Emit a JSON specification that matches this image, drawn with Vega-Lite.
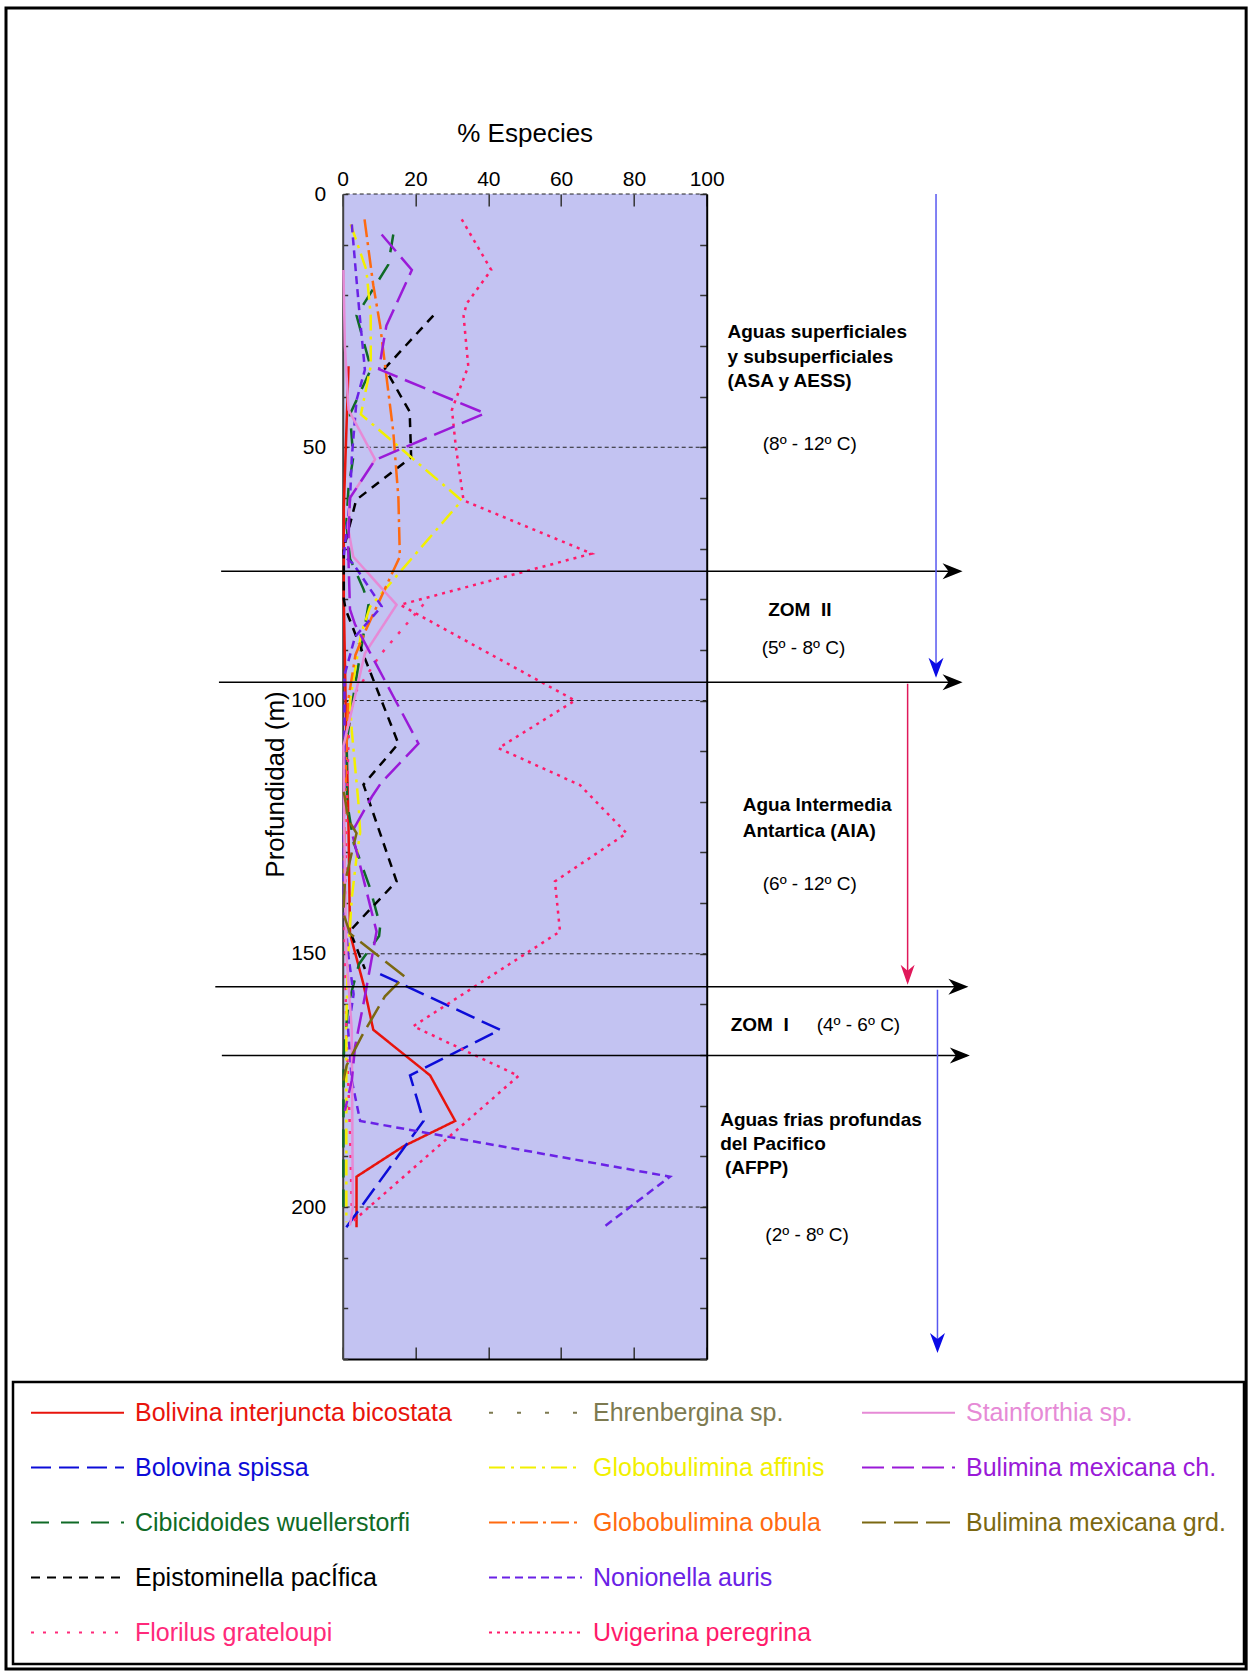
{
  "$schema": "https://vega.github.io/schema/vega-lite/v6.json",
  "autosize": "none",
  "width": 364,
  "height": 1165,
  "padding": {"left": 342.7, "top": 194, "right": 545.3, "bottom": 315},
  "background": "#ffffff",
  "config": {
    "font": "Liberation Sans",
    "view": {"stroke": null, "fill": "#c3c3f2"},
    "axis": {"grid": false, "labelColor": "#000", "titleColor": "#000", "labelFont": "Liberation Sans", "titleFont": "Liberation Sans"}
  },
  "datasets": {
    "grid": [{"d": 0}, {"d": 50}, {"d": 100}, {"d": 150}, {"d": 200}],
    "lines": [
      {"s": "Bolivina interjuncta bicostata", "d": 34, "p": 1.6},
      {"s": "Bolivina interjuncta bicostata", "d": 62, "p": 0.3},
      {"s": "Bolivina interjuncta bicostata", "d": 80, "p": 0.3},
      {"s": "Bolivina interjuncta bicostata", "d": 100, "p": 0.8},
      {"s": "Bolivina interjuncta bicostata", "d": 125, "p": 1.6},
      {"s": "Bolivina interjuncta bicostata", "d": 146, "p": 2},
      {"s": "Bolivina interjuncta bicostata", "d": 156, "p": 5.7},
      {"s": "Bolivina interjuncta bicostata", "d": 165, "p": 8.4},
      {"s": "Bolivina interjuncta bicostata", "d": 174, "p": 24},
      {"s": "Bolivina interjuncta bicostata", "d": 183, "p": 30.9},
      {"s": "Bolivina interjuncta bicostata", "d": 188, "p": 16.7},
      {"s": "Bolivina interjuncta bicostata", "d": 194, "p": 3.8},
      {"s": "Bolivina interjuncta bicostata", "d": 204, "p": 3.8},

      {"s": "Bolovina spissa", "d": 154, "p": 10.3},
      {"s": "Bolovina spissa", "d": 165, "p": 43.2},
      {"s": "Bolovina spissa", "d": 174, "p": 18.5},
      {"s": "Bolovina spissa", "d": 183, "p": 22.2},
      {"s": "Bolovina spissa", "d": 204, "p": 1},

      {"s": "Cibicidoides wuellerstorfi", "d": 8, "p": 13.9},
      {"s": "Cibicidoides wuellerstorfi", "d": 14, "p": 12.5},
      {"s": "Cibicidoides wuellerstorfi", "d": 24, "p": 3.8},
      {"s": "Cibicidoides wuellerstorfi", "d": 34.5, "p": 7.8},
      {"s": "Cibicidoides wuellerstorfi", "d": 43.5, "p": 2},
      {"s": "Cibicidoides wuellerstorfi", "d": 52, "p": 2.9},
      {"s": "Cibicidoides wuellerstorfi", "d": 58, "p": 1.6},
      {"s": "Cibicidoides wuellerstorfi", "d": 65, "p": 1},
      {"s": "Cibicidoides wuellerstorfi", "d": 72, "p": 2},
      {"s": "Cibicidoides wuellerstorfi", "d": 78, "p": 5.7},
      {"s": "Cibicidoides wuellerstorfi", "d": 81, "p": 7.1},
      {"s": "Cibicidoides wuellerstorfi", "d": 97, "p": 3.4},
      {"s": "Cibicidoides wuellerstorfi", "d": 108, "p": 1.1},
      {"s": "Cibicidoides wuellerstorfi", "d": 120, "p": 1.2},
      {"s": "Cibicidoides wuellerstorfi", "d": 128, "p": 3},
      {"s": "Cibicidoides wuellerstorfi", "d": 137, "p": 7.5},
      {"s": "Cibicidoides wuellerstorfi", "d": 144.5, "p": 10.3},
      {"s": "Cibicidoides wuellerstorfi", "d": 146.5, "p": 10},
      {"s": "Cibicidoides wuellerstorfi", "d": 152, "p": 4.5},
      {"s": "Cibicidoides wuellerstorfi", "d": 160, "p": 1.5},
      {"s": "Cibicidoides wuellerstorfi", "d": 170, "p": 0.3},
      {"s": "Cibicidoides wuellerstorfi", "d": 185, "p": 0.2},
      {"s": "Cibicidoides wuellerstorfi", "d": 200, "p": 0.2},

      {"s": "Epistominella pacÍfica", "d": 24, "p": 24.9},
      {"s": "Epistominella pacÍfica", "d": 34.4, "p": 11.6},
      {"s": "Epistominella pacÍfica", "d": 43, "p": 18.4},
      {"s": "Epistominella pacÍfica", "d": 52, "p": 18.8},
      {"s": "Epistominella pacÍfica", "d": 60.4, "p": 3.7},
      {"s": "Epistominella pacÍfica", "d": 70, "p": 0.3},
      {"s": "Epistominella pacÍfica", "d": 80, "p": 0.3},
      {"s": "Epistominella pacÍfica", "d": 82, "p": 0.8},
      {"s": "Epistominella pacÍfica", "d": 108.5, "p": 15.3},
      {"s": "Epistominella pacÍfica", "d": 116.6, "p": 5.7},
      {"s": "Epistominella pacÍfica", "d": 135.7, "p": 14.8},
      {"s": "Epistominella pacÍfica", "d": 143, "p": 5.2},
      {"s": "Epistominella pacÍfica", "d": 145.5, "p": 2},
      {"s": "Epistominella pacÍfica", "d": 153, "p": 6.1},

      {"s": "Florilus grateloupi", "d": 81, "p": 22.2},
      {"s": "Florilus grateloupi", "d": 91, "p": 10.3},
      {"s": "Florilus grateloupi", "d": 100, "p": 2},
      {"s": "Florilus grateloupi", "d": 110, "p": 1.5},
      {"s": "Florilus grateloupi", "d": 125, "p": 1},
      {"s": "Florilus grateloupi", "d": 145, "p": 0.5},
      {"s": "Florilus grateloupi", "d": 165, "p": 1},
      {"s": "Florilus grateloupi", "d": 185, "p": 2},
      {"s": "Florilus grateloupi", "d": 200, "p": 2.5},

      {"s": "Globobulimina affinis", "d": 6, "p": 2.2},
      {"s": "Globobulimina affinis", "d": 15, "p": 6.5},
      {"s": "Globobulimina affinis", "d": 24, "p": 7.7},
      {"s": "Globobulimina affinis", "d": 34, "p": 7.7},
      {"s": "Globobulimina affinis", "d": 43.5, "p": 5},
      {"s": "Globobulimina affinis", "d": 60.5, "p": 32.7},
      {"s": "Globobulimina affinis", "d": 81.5, "p": 7.5},
      {"s": "Globobulimina affinis", "d": 87, "p": 5},
      {"s": "Globobulimina affinis", "d": 100, "p": 2},
      {"s": "Globobulimina affinis", "d": 106, "p": 2.5},
      {"s": "Globobulimina affinis", "d": 120, "p": 4.3},
      {"s": "Globobulimina affinis", "d": 126, "p": 4.8},
      {"s": "Globobulimina affinis", "d": 131, "p": 3.8},
      {"s": "Globobulimina affinis", "d": 139, "p": 2.5},
      {"s": "Globobulimina affinis", "d": 150, "p": 1.5},
      {"s": "Globobulimina affinis", "d": 163, "p": 1},
      {"s": "Globobulimina affinis", "d": 180, "p": 1},
      {"s": "Globobulimina affinis", "d": 203, "p": 1},

      {"s": "Globobulimina obula", "d": 5, "p": 6},
      {"s": "Globobulimina obula", "d": 18, "p": 8.4},
      {"s": "Globobulimina obula", "d": 26, "p": 10.3},
      {"s": "Globobulimina obula", "d": 47, "p": 13.9},
      {"s": "Globobulimina obula", "d": 60, "p": 15.3},
      {"s": "Globobulimina obula", "d": 71.6, "p": 15.7},
      {"s": "Globobulimina obula", "d": 86, "p": 6.4},
      {"s": "Globobulimina obula", "d": 91, "p": 3.5},
      {"s": "Globobulimina obula", "d": 100, "p": 1.5},
      {"s": "Globobulimina obula", "d": 110, "p": 1},
      {"s": "Globobulimina obula", "d": 125, "p": 0.5},
      {"s": "Globobulimina obula", "d": 140, "p": 0.5},

      {"s": "Nonionella auris", "d": 6, "p": 2.5},
      {"s": "Nonionella auris", "d": 17, "p": 3.8},
      {"s": "Nonionella auris", "d": 25, "p": 4.8},
      {"s": "Nonionella auris", "d": 34.7, "p": 6.1},
      {"s": "Nonionella auris", "d": 40.7, "p": 3.8},
      {"s": "Nonionella auris", "d": 52, "p": 2.5},
      {"s": "Nonionella auris", "d": 60.4, "p": 2},
      {"s": "Nonionella auris", "d": 71.5, "p": 0.3},
      {"s": "Nonionella auris", "d": 73, "p": 2.9},
      {"s": "Nonionella auris", "d": 81.4, "p": 10.7},
      {"s": "Nonionella auris", "d": 87.4, "p": 3.4},
      {"s": "Nonionella auris", "d": 95, "p": 0.5},
      {"s": "Nonionella auris", "d": 110, "p": 0.5},
      {"s": "Nonionella auris", "d": 125, "p": 0.3},
      {"s": "Nonionella auris", "d": 140, "p": 0.3},
      {"s": "Nonionella auris", "d": 150, "p": 1.5},
      {"s": "Nonionella auris", "d": 158, "p": 3},
      {"s": "Nonionella auris", "d": 165, "p": 1.5},
      {"s": "Nonionella auris", "d": 175, "p": 2.5},
      {"s": "Nonionella auris", "d": 183, "p": 4.8},
      {"s": "Nonionella auris", "d": 194, "p": 89.9},
      {"s": "Nonionella auris", "d": 204, "p": 71.6},

      {"s": "Uvigerina peregrina", "d": 5, "p": 32.7},
      {"s": "Uvigerina peregrina", "d": 15, "p": 40.8},
      {"s": "Uvigerina peregrina", "d": 21.6, "p": 34.1},
      {"s": "Uvigerina peregrina", "d": 24, "p": 33.2},
      {"s": "Uvigerina peregrina", "d": 34, "p": 34.5},
      {"s": "Uvigerina peregrina", "d": 42.6, "p": 30},
      {"s": "Uvigerina peregrina", "d": 50, "p": 31.1},
      {"s": "Uvigerina peregrina", "d": 60.5, "p": 33.2},
      {"s": "Uvigerina peregrina", "d": 71, "p": 68.4},
      {"s": "Uvigerina peregrina", "d": 81.1, "p": 15.8},
      {"s": "Uvigerina peregrina", "d": 100, "p": 63.8},
      {"s": "Uvigerina peregrina", "d": 109.4, "p": 42.8},
      {"s": "Uvigerina peregrina", "d": 116.7, "p": 65.2},
      {"s": "Uvigerina peregrina", "d": 126.2, "p": 78},
      {"s": "Uvigerina peregrina", "d": 135.7, "p": 58.3},
      {"s": "Uvigerina peregrina", "d": 145.6, "p": 59.7},
      {"s": "Uvigerina peregrina", "d": 164.3, "p": 19.4},
      {"s": "Uvigerina peregrina", "d": 174.1, "p": 48.3},
      {"s": "Uvigerina peregrina", "d": 203, "p": 2.5},

      {"s": "Stainforthia sp.", "d": 15, "p": 0.2},
      {"s": "Stainforthia sp.", "d": 30, "p": 0.6},
      {"s": "Stainforthia sp.", "d": 42.6, "p": 1.6},
      {"s": "Stainforthia sp.", "d": 52.4, "p": 8.9},
      {"s": "Stainforthia sp.", "d": 60, "p": 2},
      {"s": "Stainforthia sp.", "d": 66, "p": 1.5},
      {"s": "Stainforthia sp.", "d": 71.6, "p": 2.9},
      {"s": "Stainforthia sp.", "d": 81.1, "p": 14.8},
      {"s": "Stainforthia sp.", "d": 90.7, "p": 6.1},
      {"s": "Stainforthia sp.", "d": 109, "p": 0.2},
      {"s": "Stainforthia sp.", "d": 130, "p": 0.5},
      {"s": "Stainforthia sp.", "d": 150, "p": 1},
      {"s": "Stainforthia sp.", "d": 165, "p": 2.5},
      {"s": "Stainforthia sp.", "d": 190, "p": 2.7},
      {"s": "Stainforthia sp.", "d": 200, "p": 2.8},
      {"s": "Stainforthia sp.", "d": 203.6, "p": 2},

      {"s": "Bulimina mexicana ch.", "d": 8, "p": 10.7},
      {"s": "Bulimina mexicana ch.", "d": 15, "p": 19},
      {"s": "Bulimina mexicana ch.", "d": 26, "p": 12},
      {"s": "Bulimina mexicana ch.", "d": 31.4, "p": 10.7},
      {"s": "Bulimina mexicana ch.", "d": 34.6, "p": 10},
      {"s": "Bulimina mexicana ch.", "d": 43.3, "p": 39.1},
      {"s": "Bulimina mexicana ch.", "d": 52.5, "p": 8.9},
      {"s": "Bulimina mexicana ch.", "d": 60, "p": 2},
      {"s": "Bulimina mexicana ch.", "d": 70, "p": 1.5},
      {"s": "Bulimina mexicana ch.", "d": 82, "p": 2},
      {"s": "Bulimina mexicana ch.", "d": 85, "p": 3.4},
      {"s": "Bulimina mexicana ch.", "d": 108.5, "p": 20.8},
      {"s": "Bulimina mexicana ch.", "d": 116.3, "p": 10.5},
      {"s": "Bulimina mexicana ch.", "d": 119, "p": 8},
      {"s": "Bulimina mexicana ch.", "d": 126, "p": 2.5},
      {"s": "Bulimina mexicana ch.", "d": 145.6, "p": 9.3},
      {"s": "Bulimina mexicana ch.", "d": 158.4, "p": 6.1},
      {"s": "Bulimina mexicana ch.", "d": 168.3, "p": 3.4},
      {"s": "Bulimina mexicana ch.", "d": 175, "p": 2.5},
      {"s": "Bulimina mexicana ch.", "d": 181, "p": 0.6},

      {"s": "Bulimina mexicana grd.", "d": 118, "p": 0.3},
      {"s": "Bulimina mexicana grd.", "d": 123.6, "p": 1.6},
      {"s": "Bulimina mexicana grd.", "d": 126.2, "p": 3.8},
      {"s": "Bulimina mexicana grd.", "d": 130, "p": 2.5},
      {"s": "Bulimina mexicana grd.", "d": 136, "p": 0.6},
      {"s": "Bulimina mexicana grd.", "d": 142, "p": 0.2},
      {"s": "Bulimina mexicana grd.", "d": 146, "p": 2},
      {"s": "Bulimina mexicana grd.", "d": 154.5, "p": 17},
      {"s": "Bulimina mexicana grd.", "d": 158.4, "p": 11.6},
      {"s": "Bulimina mexicana grd.", "d": 166.3, "p": 5.2},
      {"s": "Bulimina mexicana grd.", "d": 172, "p": 1.1},
      {"s": "Bulimina mexicana grd.", "d": 175, "p": 0.2}
    ],
    "hArrows": [
      {"y": 74.5, "x1": -33.4, "x2": 169.5},
      {"y": 96.4, "x1": -34, "x2": 169.5},
      {"y": 156.5, "x1": -35, "x2": 171},
      {"y": 170.1, "x1": -33.2, "x2": 171.5}
    ],
    "hHeads": [
      {"y": 74.5, "x": 170.3},
      {"y": 96.4, "x": 170.3},
      {"y": 156.5, "x": 171.9},
      {"y": 170.1, "x": 172.3}
    ],
    "blueArrows": [
      {"x": 163, "y1": 0, "y2": 95},
      {"x": 163.4, "y1": 157.1, "y2": 228}
    ],
    "blueHeads": [
      {"x": 163, "y": 95.5},
      {"x": 163.4, "y": 228.8}
    ],
    "redArrows": [{"x": 155.2, "y1": 96.7, "y2": 155.5}],
    "redHeads": [{"x": 155.2, "y": 156.1}],
    "boldText": [
      {"x": 105.7, "y": 27.3, "t": "Aguas superficiales"},
      {"x": 105.7, "y": 32.1, "t": "y subsuperficiales"},
      {"x": 105.7, "y": 36.9, "t": "(ASA y AESS)"},
      {"x": 116.9, "y": 82.2, "t": "ZOM\u00a0 II"},
      {"x": 109.9, "y": 120.7, "t": "Agua Intermedia"},
      {"x": 109.9, "y": 125.8, "t": "Antartica (AIA)"},
      {"x": 106.6, "y": 164.1, "t": "ZOM\u00a0 I"},
      {"x": 103.7, "y": 182.9, "t": "Aguas frias profundas"},
      {"x": 103.7, "y": 187.5, "t": "del Pacifico"},
      {"x": 105, "y": 192.2, "t": "(AFPP)"}
    ],
    "regText": [
      {"x": 115.4, "y": 49.4, "t": "(8º - 12º C)"},
      {"x": 115.1, "y": 89.6, "t": "(5º - 8º C)"},
      {"x": 115.4, "y": 136.3, "t": "(6º - 12º C)"},
      {"x": 130.2, "y": 164.1, "t": "(4º - 6º C)"},
      {"x": 116.1, "y": 205.6, "t": "(2º - 8º C)"}
    ]
  },
  "layer": [
    {
      "data": {"values": [{}]},
      "mark": {"type": "rect", "filled": false, "stroke": "#000000", "strokeWidth": 3},
      "encoding": {
        "x": {"datum": -92.5, "type": "quantitative", "scale": {"domain": [0, 100], "nice": false, "zero": false}, "axis": null},
        "x2": {"datum": 248.2},
        "y": {"datum": -36.7, "type": "quantitative", "scale": {"domain": [0, 230], "nice": false, "zero": false, "reverse": true}, "axis": null},
        "y2": {"datum": 291.2}
      }
    },
    {
      "data": {"name": "grid"},
      "mark": {"type": "rule", "stroke": "#222222", "strokeWidth": 1, "strokeDash": [4, 3]},
      "encoding": {
        "y": {
          "field": "d", "type": "quantitative",
          "scale": {"domain": [0, 230], "nice": false, "zero": false, "reverse": true},
          "axis": {
            "orient": "left",
            "values": [0, 10, 20, 30, 40, 50, 60, 70, 80, 90, 100, 110, 120, 130, 140, 150, 160, 170, 180, 190, 200, 210, 220, 230],
            "labelExpr": "datum.value % 50 === 0 ? datum.label : ''",
            "labelFontSize": 21,
            "labelPadding": 22,
            "tickSize": -5,
            "tickColor": "#333333",
            "tickWidth": 1.5,
            "domainColor": "#444444",
            "domainWidth": 2,
            "title": "Profundidad (m)",
            "titleFontSize": 26,
            "titleFontWeight": "normal",
            "titleX": -67.7,
            "titleY": 590,
            "titleBaseline": "middle",
            "titleAngle": -90
          }
        }
      }
    },
    {
      "data": {"name": "lines"},
      "mark": {"type": "line", "strokeWidth": 2.5},
      "encoding": {
        "x": {
          "field": "p", "type": "quantitative",
          "scale": {"domain": [0, 100], "nice": false, "zero": false},
          "axis": {
            "orient": "top",
            "values": [0, 20, 40, 60, 80, 100],
            "labelFontSize": 21,
            "labelPadding": 17,
            "labelFlush": false,
            "tickSize": -12,
            "tickColor": "#333333",
            "tickWidth": 1.5,
            "domain": false,
            "title": "% Especies",
            "titleFontSize": 26,
            "titleFontWeight": "normal",
            "titleY": -61,
            "titleBaseline": "middle"
          }
        },
        "y": {
          "field": "d", "type": "quantitative",
          "scale": {"domain": [0, 230], "nice": false, "zero": false, "reverse": true},
          "axis": {
            "orient": "right",
            "values": [0, 10, 20, 30, 40, 50, 60, 70, 80, 90, 100, 110, 120, 130, 140, 150, 160, 170, 180, 190, 200, 210, 220, 230],
            "labels": false,
            "title": null,
            "tickSize": -7,
            "tickColor": "#333333",
            "tickWidth": 1.5,
            "domainColor": "#000000",
            "domainWidth": 2
          }
        },
        "order": {"field": "d", "type": "quantitative"},
        "color": {
          "field": "s", "type": "nominal",
          "scale": {
            "domain": ["Bolivina interjuncta bicostata", "Bolovina spissa", "Cibicidoides wuellerstorfi", "Epistominella pacÍfica", "Florilus grateloupi", "Ehrenbergina sp.", "Globobulimina affinis", "Globobulimina obula", "Nonionella auris", "Uvigerina peregrina", "Stainforthia sp.", "Bulimina mexicana ch.", "Bulimina mexicana grd.", " ", "  "],
            "range": ["#e8140c", "#0c0cd8", "#0f6a26", "#000000", "#ff2a7a", "#7d7a50", "#f2f000", "#ff6a10", "#6a22e6", "#ff1a6a", "#e68ad6", "#9a1ad8", "#7b6812", "rgba(0,0,0,0)", "rgba(0,0,0,0)"]
          },
          "legend": {
            "title": null,
            "orient": "none",
            "legendX": -329.7,
            "legendY": 1188,
            "columns": 3,
            "symbolType": "M-9.3,0H9.3",
            "symbolSize": 100,
            "symbolStrokeWidth": 2,
            "symbolOffset": 34,
            "labelOffset": 45,
            "labelFontSize": 25,
            "labelFont": "Liberation Sans",
            "labelLimit": 500,
            "rowPadding": 29,
            "columnPadding": 33,
            "padding": 18,
            "strokeColor": "#000000",
            "fillColor": "#ffffff",
            "cornerRadius": 0,
            "encode": {
              "labels": {"update": {"fill": {"scale": "color", "field": "value"}}},
              "legend": {"update": {"strokeWidth": {"value": 2.5}}}
            }
          }
        },
        "strokeDash": {
          "field": "s", "type": "nominal",
          "scale": {
            "domain": ["Bolivina interjuncta bicostata", "Bolovina spissa", "Cibicidoides wuellerstorfi", "Epistominella pacÍfica", "Florilus grateloupi", "Ehrenbergina sp.", "Globobulimina affinis", "Globobulimina obula", "Nonionella auris", "Uvigerina peregrina", "Stainforthia sp.", "Bulimina mexicana ch.", "Bulimina mexicana grd.", " ", "  "],
            "range": [[1, 0], [20, 8], [18, 12], [9, 7], [3, 9], [4, 24], [16, 6, 3, 6], [18, 5, 3, 5], [8, 5], [3, 5], [1, 0], [22, 8], [24, 8], [1, 0], [1, 0]]
          },
          "legend": {
            "title": null,
            "orient": "none",
            "legendX": -329.7,
            "legendY": 1188,
            "columns": 3,
            "symbolType": "M-9.3,0H9.3",
            "symbolSize": 100,
            "symbolStrokeWidth": 2,
            "symbolOffset": 34,
            "labelOffset": 45,
            "labelFontSize": 25,
            "labelFont": "Liberation Sans",
            "labelLimit": 500,
            "rowPadding": 29,
            "columnPadding": 33,
            "padding": 18,
            "strokeColor": "#000000",
            "fillColor": "#ffffff",
            "cornerRadius": 0,
            "encode": {
              "labels": {"update": {"fill": {"scale": "color", "field": "value"}}},
              "legend": {"update": {"strokeWidth": {"value": 2.5}}}
            }
          }
        }
      }
    },
    {
      "data": {"name": "hArrows"},
      "mark": {"type": "rule", "stroke": "#000000", "strokeWidth": 1.5},
      "encoding": {
        "x": {"field": "x1", "type": "quantitative", "scale": {"domain": [0, 100], "nice": false, "zero": false}, "axis": null},
        "x2": {"field": "x2"},
        "y": {"field": "y", "type": "quantitative", "scale": {"domain": [0, 230], "nice": false, "zero": false, "reverse": true}, "axis": null}
      }
    },
    {
      "data": {"name": "hHeads"},
      "mark": {"type": "point", "shape": "M0,0L-2,-0.8L-1.4,0L-2,0.8Z", "size": 400, "filled": true, "color": "#000000", "opacity": 1, "strokeWidth": 0},
      "encoding": {
        "x": {"field": "x", "type": "quantitative", "scale": {"domain": [0, 100], "nice": false, "zero": false}, "axis": null},
        "y": {"field": "y", "type": "quantitative", "scale": {"domain": [0, 230], "nice": false, "zero": false, "reverse": true}, "axis": null}
      }
    },
    {
      "data": {"name": "blueArrows"},
      "mark": {"type": "rule", "stroke": "#5858f0", "strokeWidth": 1.5},
      "encoding": {
        "x": {"field": "x", "type": "quantitative", "scale": {"domain": [0, 100], "nice": false, "zero": false}, "axis": null},
        "y": {"field": "y1", "type": "quantitative", "scale": {"domain": [0, 230], "nice": false, "zero": false, "reverse": true}, "axis": null},
        "y2": {"field": "y2"}
      }
    },
    {
      "data": {"name": "blueHeads"},
      "mark": {"type": "point", "shape": "M0,0L-0.75,-2L0,-1.4L0.75,-2Z", "size": 400, "filled": true, "color": "#0a0ae6", "opacity": 1, "strokeWidth": 0},
      "encoding": {
        "x": {"field": "x", "type": "quantitative", "scale": {"domain": [0, 100], "nice": false, "zero": false}, "axis": null},
        "y": {"field": "y", "type": "quantitative", "scale": {"domain": [0, 230], "nice": false, "zero": false, "reverse": true}, "axis": null}
      }
    },
    {
      "data": {"name": "redArrows"},
      "mark": {"type": "rule", "stroke": "#e0185a", "strokeWidth": 1.5},
      "encoding": {
        "x": {"field": "x", "type": "quantitative", "scale": {"domain": [0, 100], "nice": false, "zero": false}, "axis": null},
        "y": {"field": "y1", "type": "quantitative", "scale": {"domain": [0, 230], "nice": false, "zero": false, "reverse": true}, "axis": null},
        "y2": {"field": "y2"}
      }
    },
    {
      "data": {"name": "redHeads"},
      "mark": {"type": "point", "shape": "M0,0L-0.7,-2L0,-1.4L0.7,-2Z", "size": 400, "filled": true, "color": "#e0185a", "opacity": 1, "strokeWidth": 0},
      "encoding": {
        "x": {"field": "x", "type": "quantitative", "scale": {"domain": [0, 100], "nice": false, "zero": false}, "axis": null},
        "y": {"field": "y", "type": "quantitative", "scale": {"domain": [0, 230], "nice": false, "zero": false, "reverse": true}, "axis": null}
      }
    },
    {
      "data": {"name": "boldText"},
      "mark": {"type": "text", "align": "left", "baseline": "middle", "fontSize": 19, "fontWeight": "bold", "font": "Liberation Sans", "color": "#000000"},
      "encoding": {
        "x": {
          "field": "x", "type": "quantitative",
          "scale": {"domain": [0, 100], "nice": false, "zero": false},
          "axis": {
            "orient": "bottom",
            "values": [0, 20, 40, 60, 80, 100],
            "labels": false,
            "title": null,
            "tickSize": -12,
            "tickColor": "#333333",
            "tickWidth": 1.5,
            "domainColor": "#000000",
            "domainWidth": 2
          }
        },
        "y": {"field": "y", "type": "quantitative", "scale": {"domain": [0, 230], "nice": false, "zero": false, "reverse": true}, "axis": null},
        "text": {"field": "t"}
      }
    },
    {
      "data": {"name": "regText"},
      "mark": {"type": "text", "align": "left", "baseline": "middle", "fontSize": 19, "font": "Liberation Sans", "color": "#000000"},
      "encoding": {
        "x": {"field": "x", "type": "quantitative", "scale": {"domain": [0, 100], "nice": false, "zero": false}, "axis": null},
        "y": {"field": "y", "type": "quantitative", "scale": {"domain": [0, 230], "nice": false, "zero": false, "reverse": true}, "axis": null},
        "text": {"field": "t"}
      }
    }
  ],
  "resolve": {"axis": {"x": "independent", "y": "independent"}}
}
